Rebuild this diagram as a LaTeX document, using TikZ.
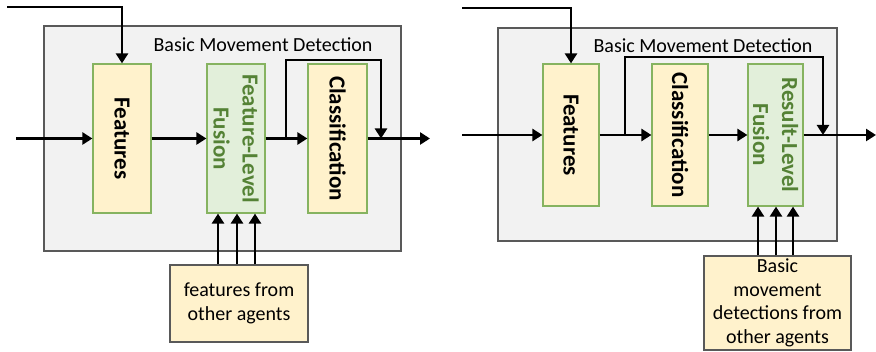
\documentclass[tikz,border=0pt]{standalone}
\usepackage{fontspec}
\setmainfont{Carlito}
\usetikzlibrary{arrows.meta}
\definecolor{boxyellow}{HTML}{FFF2CC}
\definecolor{boxgreen}{HTML}{E2EFDA}
\definecolor{stageedge}{HTML}{86B360}
\definecolor{fusetext}{HTML}{548235}
\definecolor{panelfill}{HTML}{F2F2F2}
\definecolor{paneledge}{HTML}{595959}
\tikzset{
  panel/.style={draw=paneledge,line width=1.3pt,fill=panelfill,inner sep=0pt},
  paneltitle/.style={font=\fontsize{20}{24}\selectfont,inner sep=0pt},
  stage/.style={draw=stageedge,line width=1.2pt,fill=boxyellow,inner sep=0pt},
  fuse/.style={stage,fill=boxgreen},
  stagetext/.style={rotate=-90,font=\bfseries\fontsize{23}{29}\selectfont,align=center,inner sep=0pt},
  fusetxt/.style={stagetext,text=fusetext},
  source/.style={draw=paneledge,line width=1.3pt,fill=boxyellow,align=center,
    font=\fontsize{20}{23.5}\selectfont,inner sep=0pt},
  flow/.style={line width=2.8pt,-{Triangle[length=10pt,width=12pt]}},
  wire/.style={line width=2.8pt}
}
\begin{document}
\begin{tikzpicture}[x=1pt,y=-1pt]
\useasboundingbox (0,0) rectangle (876,352);
% left: feature-level fusion
\node [panel,minimum width=357,minimum height=225] (bmd1) at (222.5,138.5) {};
\node [paneltitle] (title1) at (263,45) {Basic Movement Detection};
\node [stage,minimum width=58,minimum height=149,label={[stagetext]center:Features}] (feat1) at (122,138.5) {};
\node [fuse,minimum width=58,minimum height=149,label={[fusetxt]center:Feature-Level\\Fusion}] (fus1) at (236,138.5) {};
\node [stage,minimum width=59,minimum height=149,label={[stagetext]center:Classification}] (cls1) at (337.5,138.5) {};
\node [source,minimum width=138,minimum height=77] (oth1) at (239,303.5) {features from\\other agents};
\coordinate (in1) at (16,138.5);
\coordinate (top1) at (7,7);
\coordinate (br1) at (286,138.5);
\coordinate (j1) at (381,138.5);
\coordinate (out1) at (430,138.5);
\draw [flow] (in1) -- (feat1.west);
\draw [flow] (top1) -| (feat1.north);
\draw [flow] (feat1.east) -- (fus1.west);
\draw [flow] (fus1.east) -- (cls1.west);
\draw [flow] (br1) -- ++(0,-78.5) -| (j1);
\draw [flow] (cls1.east) -- (out1);
\foreach \x in {218,237,255}
  \draw [flow] (oth1.north -| \x,0) -- (fus1.south -| \x,0);
% right: result-level fusion
\node [panel,minimum width=339,minimum height=213] (bmd2) at (667.5,134.5) {};
\node [paneltitle] (title2) at (703,46) {Basic Movement Detection};
\node [stage,minimum width=56,minimum height=142,label={[stagetext]center:Features}] (feat2) at (571,135) {};
\node [stage,minimum width=56,minimum height=142,label={[stagetext]center:Classification}] (cls2) at (680,135) {};
\node [fuse,minimum width=55,minimum height=142,label={[fusetxt]center:Result-Level\\Fusion}] (fus2) at (775.5,135) {};
\node [source,minimum width=147,minimum height=94] (oth2) at (777.5,303) {Basic\\movement\\detections from\\other agents};
\coordinate (in2) at (462,135);
\coordinate (top2) at (462,8);
\coordinate (br2) at (625,135);
\coordinate (j2) at (823,135);
\coordinate (out2) at (876,135);
\draw [flow] (in2) -- (feat2.west);
\draw [flow] (top2) -| (feat2.north);
\draw [flow] (feat2.east) -- (cls2.west);
\draw [flow] (br2) -- ++(0,-78) -| (j2);
\draw [flow] (cls2.east) -- (fus2.west);
\draw [flow] (fus2.east) -- (out2);
\foreach \x in {758,776,793}
  \draw [flow] (oth2.north -| \x,0) -- (fus2.south -| \x,0);
\end{tikzpicture}
\end{document}
